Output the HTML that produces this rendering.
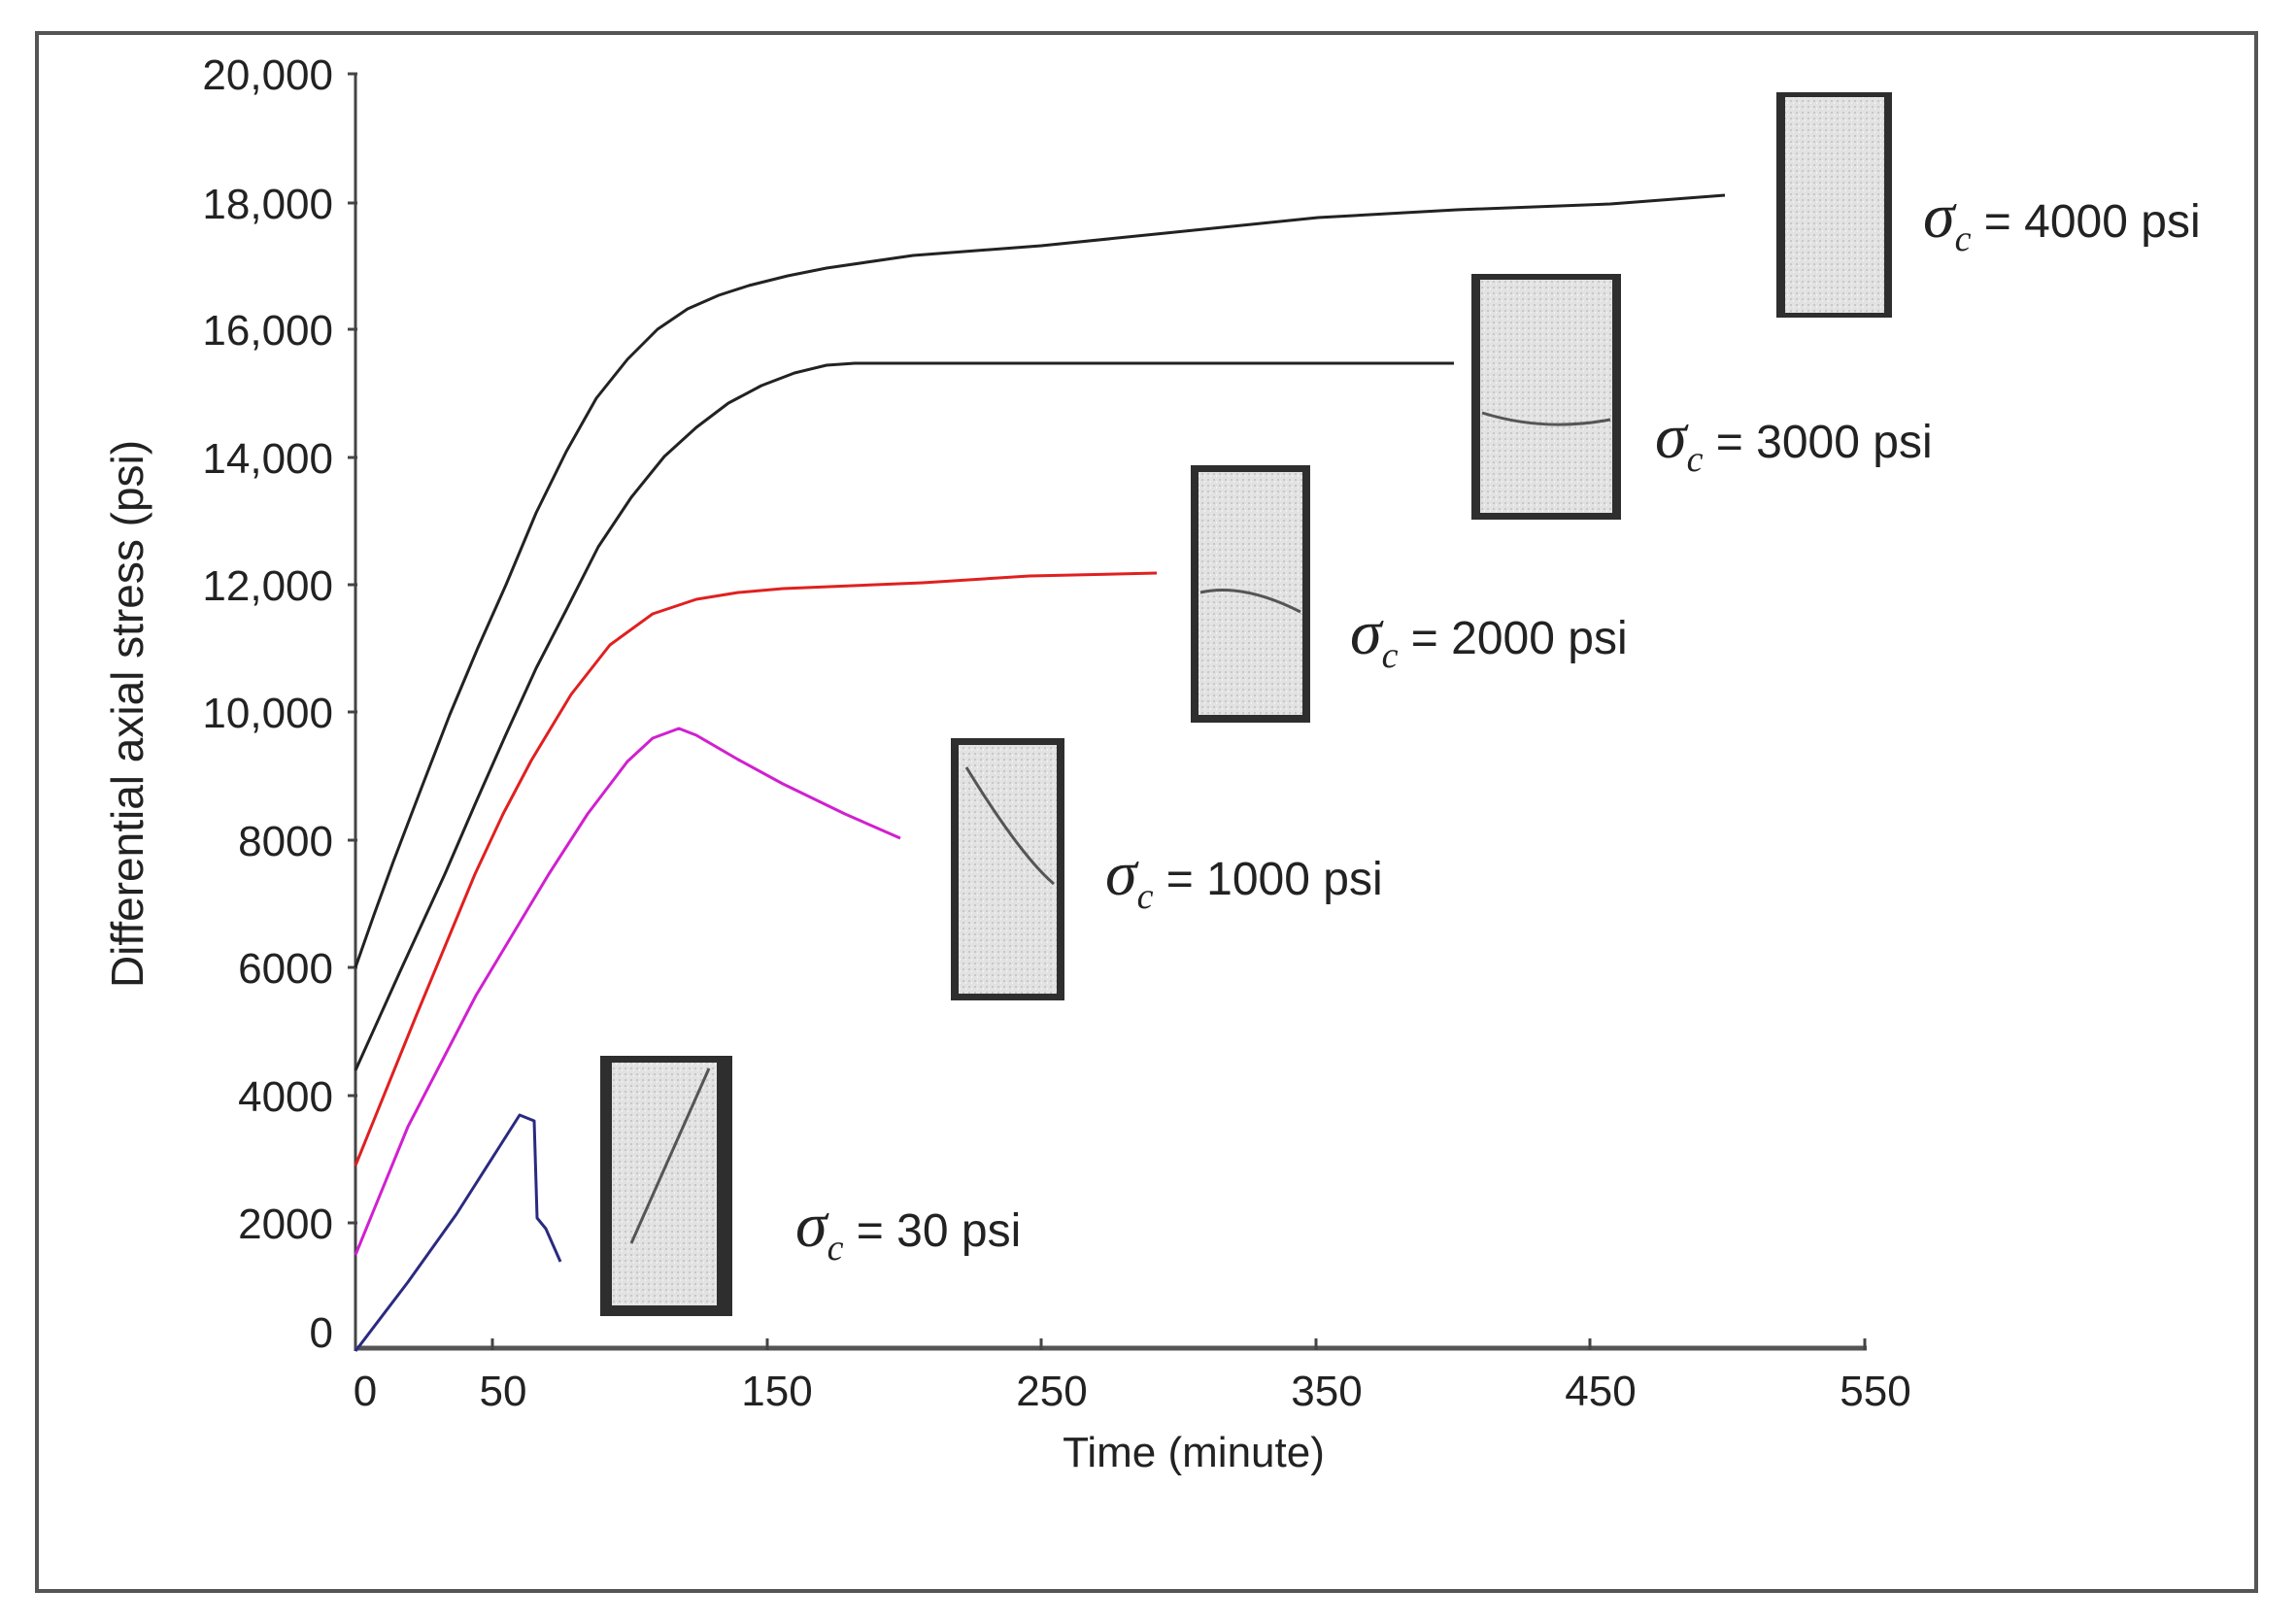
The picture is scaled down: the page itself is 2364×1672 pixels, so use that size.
<!DOCTYPE html>
<html><head><meta charset="utf-8"><style>
html,body{margin:0;padding:0;background:#fff}
svg{display:block}
text{font-family:"Liberation Sans",sans-serif;fill:#222}
.s{font-family:"Liberation Serif",serif;font-style:italic}
</style></head><body>
<svg width="2364" height="1672" viewBox="0 0 2364 1672" xmlns="http://www.w3.org/2000/svg">
<defs>
<pattern id="sp" width="6" height="6" patternUnits="userSpaceOnUse">
<rect width="6" height="6" fill="#e2e2e2"/><rect x="1" y="1" width="2" height="2" fill="#c8c8c8"/><rect x="4" y="3" width="1" height="2" fill="#f4f4f4"/>
</pattern>
</defs>
<rect x="38" y="34" width="2285" height="1604" fill="none" stroke="#555" stroke-width="4"/>
<line x1="366" y1="76" x2="366" y2="1391" stroke="#444" stroke-width="3"/>
<line x1="366" y1="1388" x2="1922" y2="1388" stroke="#555" stroke-width="5"/>
<g stroke="#444" stroke-width="3">
<line x1="358" y1="76" x2="368" y2="76"/><line x1="358" y1="209" x2="368" y2="209"/><line x1="358" y1="339" x2="368" y2="339"/><line x1="358" y1="471" x2="368" y2="471"/><line x1="358" y1="602" x2="368" y2="602"/><line x1="358" y1="733" x2="368" y2="733"/><line x1="358" y1="865" x2="368" y2="865"/><line x1="358" y1="996" x2="368" y2="996"/><line x1="358" y1="1128" x2="368" y2="1128"/><line x1="358" y1="1259" x2="368" y2="1259"/>
<line x1="507" y1="1378" x2="507" y2="1390"/><line x1="790" y1="1378" x2="790" y2="1390"/><line x1="1072" y1="1378" x2="1072" y2="1390"/><line x1="1355" y1="1378" x2="1355" y2="1390"/><line x1="1637" y1="1378" x2="1637" y2="1390"/><line x1="1920" y1="1378" x2="1920" y2="1390"/>
</g>
<g font-size="44" text-anchor="end">
<text x="343" y="92">20,000</text><text x="343" y="225">18,000</text><text x="343" y="355">16,000</text><text x="343" y="487">14,000</text><text x="343" y="618">12,000</text><text x="343" y="749">10,000</text><text x="343" y="881">8000</text><text x="343" y="1012">6000</text><text x="343" y="1144">4000</text><text x="343" y="1275">2000</text><text x="343" y="1387">0</text>
</g>
<g font-size="44" text-anchor="middle">
<text x="376" y="1447">0</text><text x="518" y="1447">50</text><text x="800" y="1447">150</text><text x="1083" y="1447">250</text><text x="1366" y="1447">350</text><text x="1648" y="1447">450</text><text x="1931" y="1447">550</text>
<text x="1229" y="1510">Time (minute)</text>
<text transform="translate(147,735) rotate(-90)" font-size="46">Differential axial stress (psi)</text>
</g>
<g fill="none" stroke-width="3" stroke-linejoin="round">
<polyline stroke="#222" points="366,996 385,942 405,887 434,811 463,736 492,667 521,602 552,528 583,465 614,410 646,370 677,339 708,318 740,304 771,294 811,284 851,276 940,263 1072,253 1200,240 1357,224 1500,216 1658,210 1776,201"/>
<polyline stroke="#222" points="366,1102 412,1000 458,900 490,826 521,756 552,688 583,628 616,563 650,512 684,470 717,440 750,415 784,397 818,384 851,376 880,374 1497,374"/>
<polyline stroke="#e02020" points="366,1200 428,1047 489,900 518,838 547,783 588,715 628,664 672,632 717,617 760,610 806,606 950,600 1060,593 1191,590"/>
<polyline stroke="#d020d0" points="366,1292 420,1160 490,1025 565,900 605,838 646,784 672,760 699,750 717,757 760,782 806,807 870,838 927,863"/>
<polyline stroke="#2a2a80" points="366,1391 420,1320 470,1250 535,1148 550,1154 553,1254 562,1265 577,1299"/>
</g>
<g>
<rect x="1829" y="95" width="119" height="232" fill="#2e2e2e"/><rect x="1838" y="100" width="102" height="222" fill="url(#sp)"/>
<rect x="1515" y="282" width="154" height="253" fill="#2e2e2e"/><rect x="1524" y="288" width="136" height="240" fill="url(#sp)"/><path d="M1526 425 Q1590 445 1658 432" stroke="#555" stroke-width="3" fill="none"/>
<rect x="1226" y="479" width="123" height="265" fill="#2e2e2e"/><rect x="1234" y="486" width="107" height="250" fill="url(#sp)"/><path d="M1236 610 Q1280 600 1339 630" stroke="#555" stroke-width="3" fill="none"/>
<rect x="979" y="760" width="117" height="270" fill="#2e2e2e"/><rect x="987" y="767" width="101" height="256" fill="url(#sp)"/><path d="M995 790 Q1050 880 1085 910" stroke="#555" stroke-width="3" fill="none"/>
<rect x="618" y="1087" width="136" height="268" fill="#2e2e2e"/><rect x="630" y="1094" width="108" height="250" fill="url(#sp)"/><path d="M730 1100 L650 1280" stroke="#555" stroke-width="3" fill="none"/>
</g>
<g font-size="48">
<text x="1980" y="244"><tspan class="s" font-size="66">σ</tspan><tspan class="s" font-size="38" dy="14">c</tspan><tspan dy="-14"> = 4000 psi</tspan></text>
<text x="1704" y="471"><tspan class="s" font-size="66">σ</tspan><tspan class="s" font-size="38" dy="14">c</tspan><tspan dy="-14"> = 3000 psi</tspan></text>
<text x="1390" y="673"><tspan class="s" font-size="66">σ</tspan><tspan class="s" font-size="38" dy="14">c</tspan><tspan dy="-14"> = 2000 psi</tspan></text>
<text x="1138" y="921"><tspan class="s" font-size="66">σ</tspan><tspan class="s" font-size="38" dy="14">c</tspan><tspan dy="-14"> = 1000 psi</tspan></text>
<text x="819" y="1283"><tspan class="s" font-size="66">σ</tspan><tspan class="s" font-size="38" dy="14">c</tspan><tspan dy="-14"> = 30 psi</tspan></text>
</g>
</svg>
</body></html>
